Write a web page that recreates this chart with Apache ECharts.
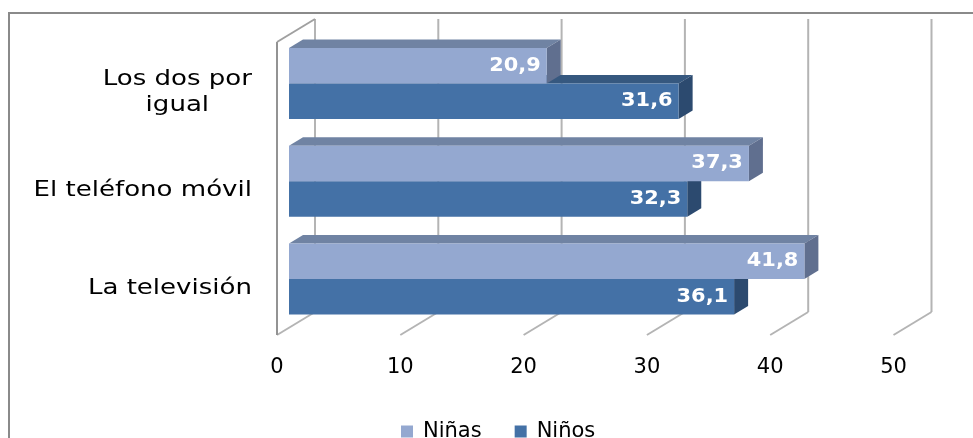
<!DOCTYPE html>
<html>
<head>
<meta charset="utf-8">
<script src="https://cdn.jsdelivr.net/npm/echarts@6/dist/echarts.min.js"></script>
<style>
html,body{margin:0;padding:0;background:#fff;}
#chart{width:973px;height:438px;}
</style>
</head>
<body>
<div id="chart"></div>
<script>
// ---- data ----
const categories = ['Los dos por\nigual', 'El teléfono móvil', 'La televisión'];
const seriesNames = ['Niñas', 'Niños'];
const ninas = [20.9, 37.3, 41.8];
const ninos = [31.6, 32.3, 36.1];
const xTicks = [0, 10, 20, 30, 40, 50];

// ---- 3D look (styling only) ----
const SLOPE = 0.605;      // vertical shift per pixel of depth
const D_FRONT = 12;       // bar front plane depth
const D_BACK = 26;        // bar back plane depth
const D_WALL = 38;        // back wall depth
const FONT = '"DejaVu Sans", sans-serif';

const colors = {
  'Niñas': {front: '#94A8D0', top: '#7083A3', side: '#606F8F'},
  'Niños': {front: '#4471A6', top: '#36587F', side: '#2C4A6F'}
};

function fmt(v) { return v.toFixed(1).replace('.', ','); }

function barRenderer(name, isUpper) {
  const c = colors[name];
  return function (params, api) {
    const v = api.value(0), ci = api.value(1);
    const p0 = api.coord([0, ci]);
    const p1 = api.coord([v, ci]);
    const band = api.size([0, 1])[1];
    const h = band * 0.3635;
    const yT = isUpper ? p0[1] - h : p0[1];
    const yB = yT + h;
    const fx0 = p0[0] + D_FRONT, fx1 = p1[0] + D_FRONT;
    const bx0 = p0[0] + D_BACK, bx1 = p1[0] + D_BACK;
    const fdy = -D_FRONT * SLOPE, bdy = -D_BACK * SLOPE;
    return {
      type: 'group',
      children: [
        {type: 'polygon', shape: {points: [[fx0, yT + fdy], [fx1, yT + fdy], [bx1, yT + bdy], [bx0, yT + bdy]]},
          style: {fill: c.top}},
        {type: 'polygon', shape: {points: [[fx1, yT + fdy], [bx1, yT + bdy], [bx1, yB + bdy], [fx1, yB + fdy]]},
          style: {fill: c.side}},
        {type: 'rect', shape: {x: fx0, y: yT + fdy, width: fx1 - fx0, height: h},
          style: {fill: c.front}},
        {type: 'text', x: fx1 - 6, y: (yT + yB) / 2 + fdy, scaleX: 1.1,
          style: {text: fmt(v), fill: '#fff', font: 'bold 19px ' + FONT, textAlign: 'right', textVerticalAlign: 'middle'}}
      ]
    };
  };
}

function gridRenderer(params, api) {
  const v = api.value(0);
  const x = api.coord([v, 0])[0];
  const cs = params.coordSys;
  const top = cs.y, bottom = cs.y + cs.height;
  const wdy = -D_WALL * SLOPE;
  const ls = {stroke: '#b4b4b4', lineWidth: 2};
  const children = [
    {type: 'line', shape: {x1: x + D_WALL, y1: top + wdy, x2: x + D_WALL, y2: bottom + wdy}, style: ls},
    {type: 'line', shape: {x1: x, y1: bottom, x2: x + D_WALL, y2: bottom + wdy}, style: ls}
  ];
  if (params.dataIndex === 0) {
    children.push({type: 'line', shape: {x1: x, y1: top, x2: x, y2: bottom}, style: {stroke: '#939393', lineWidth: 2}});
    children.push({type: 'line', shape: {x1: x, y1: top, x2: x + D_WALL, y2: top + wdy}, style: {stroke: '#a0a0a0', lineWidth: 2}});
  }
  return {type: 'group', children: children};
}

const measureCtx = document.createElement('canvas').getContext('2d');
const CAT_FONT_SIZE = 21, CAT_SCALE = 1.24;
function catLabelRenderer(params, api) {
  const ci = api.value(1);
  const p = api.coord([0, ci]);
  const text = categories[ci];
  measureCtx.font = CAT_FONT_SIZE + 'px ' + FONT;
  const w = Math.max.apply(null, text.split('\n').map(s => measureCtx.measureText(s).width)) * CAT_SCALE;
  const right = p[0] - 25;
  return {
    type: 'text', x: right - w / 2, y: p[1] + 2, scaleX: CAT_SCALE,
    style: {text: text, fill: '#000', font: CAT_FONT_SIZE + 'px ' + FONT, textAlign: 'center',
      textVerticalAlign: 'middle', lineHeight: 26}
  };
}

const chart = echarts.init(document.getElementById('chart'), null, {renderer: 'canvas'});
chart.setOption({
  animation: false,
  color: [colors['Niñas'].front, colors['Niños'].front],
  graphic: [{type: 'rect', z: 100, shape: {x: 9, y: 13, width: 990, height: 450},
    style: {fill: 'none', stroke: '#8a8a8a', lineWidth: 2}}],
  grid: {left: 277, width: 616.5, top: 42, height: 293},
  xAxis: {type: 'value', min: 0, max: 50, interval: 10,
    axisLine: {show: false}, axisTick: {show: false}, splitLine: {show: false},
    axisLabel: {margin: 22, fontSize: 21, color: '#000', fontFamily: FONT,
      formatter: v => String(xTicks[xTicks.indexOf(v)])}},
  yAxis: {type: 'category', data: categories, inverse: true,
    axisLine: {show: false}, axisTick: {show: false}, axisLabel: {show: false}, splitLine: {show: false}},
  legend: {data: seriesNames, left: 396, top: 416, icon: 'rect', itemWidth: 12, itemHeight: 12, itemGap: 33,
    textStyle: {fontSize: 21, color: '#000', fontFamily: FONT, padding: [0, 0, 0, 5]}},
  series: [
    {type: 'custom', name: 'grid', renderItem: gridRenderer, clip: false, silent: true,
      data: xTicks.map(t => [t, 0]), encode: {x: 0, y: 1}},
    {type: 'custom', name: 'cats', renderItem: catLabelRenderer, clip: false, silent: true,
      data: categories.map((c, i) => [0, i]), encode: {x: 0, y: 1}},
    {type: 'custom', name: 'Niños', renderItem: barRenderer('Niños', false), clip: false,
      itemStyle: {color: colors['Niños'].front},
      data: ninos.map((v, i) => [v, i]), encode: {x: 0, y: 1}},
    {type: 'custom', name: 'Niñas', renderItem: barRenderer('Niñas', true), clip: false,
      itemStyle: {color: colors['Niñas'].front},
      data: ninas.map((v, i) => [v, i]), encode: {x: 0, y: 1}}
  ]
});
</script>
</body>
</html>
